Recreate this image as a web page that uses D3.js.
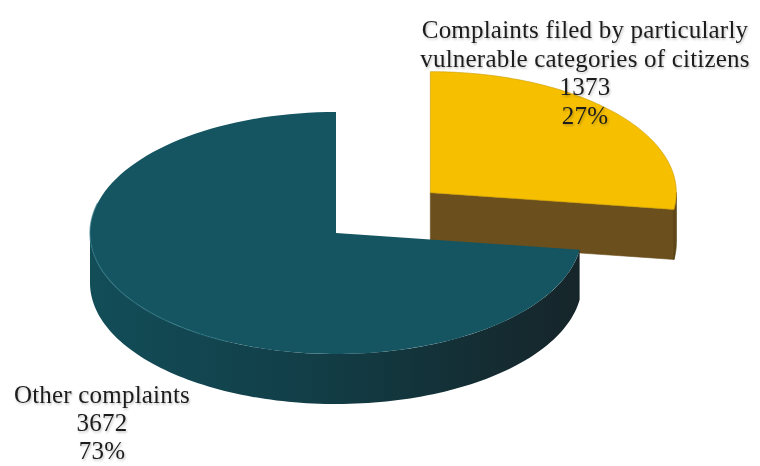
<!DOCTYPE html>
<html>
<head>
<meta charset="utf-8">
<script src="https://cdn.jsdelivr.net/npm/d3@7"></script>
<style>
  html, body { margin: 0; padding: 0; background: #fff; }
  svg { display: block; }
  text { font-family: "Liberation Serif", "DejaVu Serif", serif; fill: #1e1e1e; }
</style>
</head>
<body>
<svg id="chart" width="760" height="466"></svg>
<script>
// Complaint categories and counts
const categories = [
  ["Complaints filed by particularly", "vulnerable categories of citizens"],
  ["Other complaints"]
];
const values = [1373, 3672];
const topColors = ["#f6bf00", "#155562"];
const sideColors = ["#6b4f1c", "#124652"];
const exploded = [true, false];

const W = 760, H = 466;
const rx = 246, ry = 121, depth = 50;
const cx = 336, cy = 233;          // centre of the pie's top face
const explode = 125;               // radial pull-out of the separated slice

const svg = d3.select("#chart");
const defs = svg.append("defs");

// soft shadow under labels
const ts = defs.append("filter").attr("id", "txtShadow")
  .attr("x", "-10%").attr("y", "-30%").attr("width", "120%").attr("height", "160%");
ts.append("feDropShadow").attr("dx", 1).attr("dy", 1.5).attr("stdDeviation", 1.2)
  .attr("flood-color", "#000").attr("flood-opacity", 0.25);

// shading along the outer wall of the large slice
const wallGrad = defs.append("linearGradient").attr("id", "wallGrad")
  .attr("gradientUnits", "userSpaceOnUse")
  .attr("x1", cx - rx).attr("y1", 0).attr("x2", cx + rx).attr("y2", 0);
wallGrad.append("stop").attr("offset", "0%").attr("stop-color", "#124d58");
wallGrad.append("stop").attr("offset", "45%").attr("stop-color", "#123e47");
wallGrad.append("stop").attr("offset", "80%").attr("stop-color", "#142d33");
wallGrad.append("stop").attr("offset", "100%").attr("stop-color", "#16252a");

const pie = d3.pie().sort(null).startAngle(0).endAngle(2 * Math.PI);
const arcs = pie(values);
const total = d3.sum(values);

// project an angle (clockwise from 12 o'clock) onto the tilted ellipse
const proj = (ox, oy, a, dz = 0) => [ox + rx * Math.sin(a), oy - ry * Math.cos(a) + dz];
const line = d3.line();
const samples = (a0, a1) => d3.range(0, 1.0001, 1 / 120).map(t => a0 + (a1 - a0) * t);

function sliceOrigin(d, i) {
  if (!exploded[i]) return [cx, cy];
  const mid = (d.startAngle + d.endAngle) / 2;
  return [cx + explode * Math.sin(mid), cy - explode * (ry / rx) * Math.cos(mid)];
}

const order = [0, 1]; // separated slice sits behind the large one
order.forEach(i => {
  const d = arcs[i];
  const [ox, oy] = sliceOrigin(d, i);
  const g = svg.append("g");

  // radial face at the end angle (turned toward the viewer when it points downward)
  if (Math.cos(d.endAngle) < 0.2 && d.endAngle < Math.PI) {
    const e = proj(ox, oy, d.endAngle);
    g.append("path")
      .attr("d", line([[ox, oy], e, [e[0], e[1] + depth], [ox, oy + depth]]) + "Z")
      .attr("fill", sideColors[i])
      .attr("stroke", sideColors[i]).attr("stroke-width", 0.6);
  }

  // outer wall, visible for the lower half of the ellipse
  const w0 = Math.max(d.startAngle, Math.PI / 2);
  const w1 = Math.min(d.endAngle, 3 * Math.PI / 2);
  if (w1 > w0) {
    const top = samples(w0, w1).map(a => proj(ox, oy, a));
    const bot = samples(w0, w1).reverse().map(a => proj(ox, oy, a, depth));
    g.append("path")
      .attr("d", line(top.concat(bot)) + "Z")
      .attr("fill", i === 1 ? "url(#wallGrad)" : sideColors[i])
      .attr("stroke", i === 1 ? "none" : "#4d3810").attr("stroke-width", 0.8);
  }

  // top face
  const rim = samples(d.startAngle, d.endAngle).map(a => proj(ox, oy, a));
  g.append("path")
    .attr("d", line([[ox, oy]].concat(rim)) + "Z")
    .attr("fill", topColors[i])
    .attr("stroke", i === 0 ? "#c99a00" : "none").attr("stroke-width", 0.6);

  // light bevel along the left rim of the large slice
  if (i === 1) {
    const b = samples(3.6, 3 * Math.PI / 2 + 0.25).map(a => proj(ox, oy, a));
    g.append("path").attr("d", line(b)).attr("fill", "none")
      .attr("stroke", "#2a7381").attr("stroke-width", 1.4).attr("opacity", 0.55);
  }
});

// labels: category, count and share
const labelPos = [
  { x: 585, y: 38, lh: 28.5 },
  { x: 102, y: 403, lh: 28 }
];
arcs.forEach((d, i) => {
  const lines = categories[i].concat([
    String(values[i]),
    Math.round(values[i] / total * 100) + "%"
  ]);
  const t = svg.append("text")
    .attr("text-anchor", "middle")
    .attr("font-size", 25)
    .attr("letter-spacing", 0.2)
    .attr("filter", "url(#txtShadow)");
  lines.forEach((s, k) => {
    t.append("tspan").attr("x", labelPos[i].x).attr("y", labelPos[i].y + k * labelPos[i].lh).text(s);
  });
});
</script>
</body>
</html>
